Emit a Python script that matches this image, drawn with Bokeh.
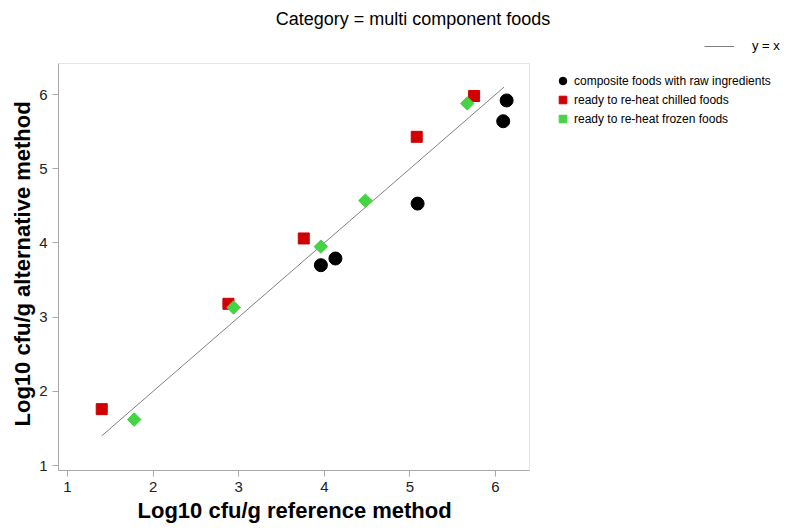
import numpy as np
from bokeh.plotting import figure
from bokeh.models import (Range1d, Legend, LegendItem, FixedTicker, Label,
                          BoxAnnotation, Title)
from bokeh.embed import file_html
from bokeh.resources import INLINE

# Log10 cfu/g counts: reference method (x) vs alternative method (y)
raw_x = [3.96, 4.13, 5.09, 6.09, 6.13]
raw_y = [3.70, 3.79, 4.53, 5.64, 5.92]

chilled_x = [1.40, 2.88, 3.76, 5.08, 5.75]
chilled_y = [1.76, 3.18, 4.06, 5.43, 5.98]

frozen_x = [1.78, 2.94, 3.96, 4.48, 5.67]
frozen_y = [1.62, 3.13, 3.95, 4.57, 5.88]

ident = [1.40, 6.10]
ticks = [1, 2, 3, 4, 5, 6]

FONT = "Liberation Sans"
GREY = "#a8a8a8"
GREEN = "#44d444"

# plotting box in data units
X_LO, X_HI = 0.895, 6.397
Y_LO, Y_HI = 0.933, 6.418

# the frame reaches past the box so the key and title can sit beside it
p = figure(
    frame_width=745, frame_height=470,
    min_border_left=58, min_border_right=0,
    min_border_top=0, min_border_bottom=60,
    x_range=Range1d(X_LO, 9.598), y_range=Range1d(Y_LO, 7.267),
    output_backend="svg", toolbar_location=None,
    background_fill_color="white", border_fill_color="white",
    title=None,
)
p.grid.visible = False
p.outline_line_color = None

p.add_layout(BoxAnnotation(left=X_LO, right=X_HI, bottom=Y_LO, top=Y_HI,
                           fill_alpha=0, line_color=GREY, line_width=1,
                           level="underlay"))

for ax in (p.xaxis[0], p.yaxis[0]):
    ax.ticker = FixedTicker(ticks=ticks)
    ax.minor_tick_line_color = None
    ax.axis_line_color = GREY
    ax.major_tick_line_color = GREY
    ax.major_tick_out = 6
    ax.major_tick_in = 0
    ax.major_label_text_font = FONT
    ax.major_label_text_font_size = "15px"
    ax.major_label_text_color = "#222222"

p.xaxis.bounds = (X_LO, X_HI)
p.yaxis.bounds = (Y_LO, Y_HI)

# axis titles, aligned on the plotting box rather than the whole frame
p.add_layout(Title(
    text="Log10 cfu/g reference method", align="left", offset=79,
    text_font=FONT, text_font_size="22px", text_font_style="bold",
    text_color="black", standoff=3,
), "below")
p.add_layout(Title(
    text="Log10 cfu/g alternative method", align="left", offset=44,
    text_font=FONT, text_font_size="22px", text_font_style="bold",
    text_color="black", standoff=4,
), "left")

line_r = p.line(ident, ident, line_color="#808080", line_width=1)

r_raw = p.scatter(raw_x, raw_y, marker="circle", size=13,
                  fill_color="black", line_color="black")
r_chill = p.scatter(chilled_x, chilled_y, marker="square", size=11,
                    fill_color="#d00000", line_color="#d00000")
r_froz = p.scatter(frozen_x, frozen_y, marker="square", size=9.5, angle=np.pi / 4,
                   fill_color=GREEN, line_color=GREEN)

leg_main = Legend(
    items=[
        LegendItem(label="composite foods with raw ingredients", renderers=[r_raw]),
        LegendItem(label="ready to re-heat chilled foods", renderers=[r_chill]),
        LegendItem(label="ready to re-heat frozen foods", renderers=[r_froz]),
    ],
    location=(495, 342), orientation="vertical",
    glyph_width=19, glyph_height=19, label_standoff=2, spacing=0,
    label_text_font=FONT, label_text_font_size="12px",
    label_height=12, label_text_color="black",
    border_line_color=None, background_fill_alpha=0,
    padding=0, margin=0,
)
leg_top = Legend(
    items=[LegendItem(label="y = x", renderers=[line_r])],
    location=(646, 417), orientation="vertical",
    glyph_width=30, glyph_height=14, label_standoff=18,
    label_text_font=FONT, label_text_font_size="13px",
    label_text_color="black",
    border_line_color=None, background_fill_alpha=0,
    padding=0, margin=0,
)
p.add_layout(leg_main, "center")
p.add_layout(leg_top, "center")

p.add_layout(Label(
    x=354.5, y=452, x_units="screen", y_units="screen",
    text="Category = multi component foods",
    text_align="center", text_baseline="middle",
    text_font=FONT, text_font_size="18px", text_color="black",
))

open("out.html", "w").write(file_html(p, INLINE))
